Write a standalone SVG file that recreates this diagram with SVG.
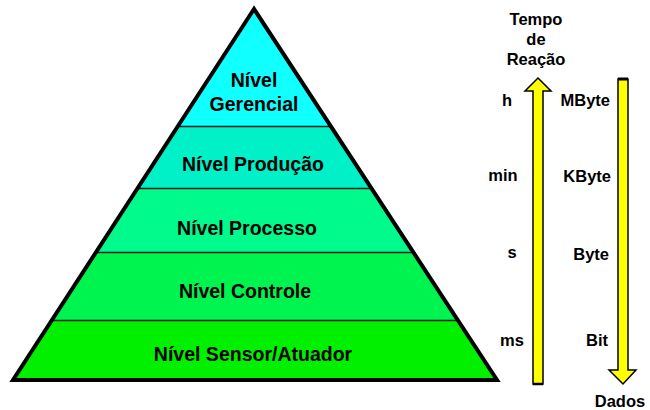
<svg xmlns="http://www.w3.org/2000/svg" width="650" height="410" viewBox="0 0 650 410">
<style>
.lbl{font-family:"Liberation Sans",Arial,sans-serif;font-weight:bold;font-size:19.5px;fill:#000;text-anchor:middle}
.sm{font-family:"Liberation Sans",Arial,sans-serif;font-weight:bold;font-size:16.5px;fill:#000}
.div{stroke:#1a1a1a;stroke-width:1.5}
.arr{fill:#FFFF00;stroke:#000;stroke-width:1.5;stroke-linejoin:miter}
</style>
<defs>
<clipPath id="tri"><polygon points="254,9 13,380 497,380"/></clipPath>
</defs>
<rect width="650" height="410" fill="#fff"/>
<g clip-path="url(#tri)">
<g id="gerencial"><rect x="0" y="0" width="510" height="127" fill="#10FFFF"/></g>
<g id="producao"><rect x="0" y="127" width="510" height="62" fill="#00F0C8"/></g>
<g id="processo"><rect x="0" y="189" width="510" height="64" fill="#00FA8C"/></g>
<g id="controle"><rect x="0" y="253" width="510" height="68" fill="#00F450"/></g>
<g id="sensor"><rect x="0" y="321" width="510" height="60" fill="#00F000"/></g>
<line class="div" x1="0" y1="126.5" x2="510" y2="126.5"/>
<line class="div" x1="0" y1="188.5" x2="510" y2="188.5"/>
<line class="div" x1="0" y1="252.5" x2="510" y2="252.5"/>
<line class="div" x1="0" y1="320.5" x2="510" y2="320.5"/>
</g>
<polygon points="254,9 13,380 497,380" fill="none" stroke="#000" stroke-width="4" stroke-linejoin="miter"/>
<text class="lbl" x="254" y="87">Nível</text>
<text class="lbl" x="254" y="111">Gerencial</text>
<text class="lbl" x="253" y="171">Nível Produção</text>
<text class="lbl" x="247" y="235">Nível Processo</text>
<text class="lbl" x="245" y="298">Nível Controle</text>
<text class="lbl" x="253" y="361">Nível Sensor/Atuador</text>
<g id="connectors">
<polygon id="tempo-arrow" class="arr" points="538,78 551,91 543,91 543,384 533,384 533,91 525,91"/>
<line x1="533" y1="384" x2="543" y2="384" stroke="#000" stroke-width="2.5"/>
<polygon id="dados-arrow" class="arr" points="618,79 628,79 628,370 636,370 623,384 609,370 618,370"/>
<line x1="618" y1="79" x2="628" y2="79" stroke="#000" stroke-width="3"/>
</g>
<g id="tempo">
<text class="sm" x="536" y="25" text-anchor="middle">Tempo</text>
<text class="sm" x="536" y="45" text-anchor="middle">de</text>
<text class="sm" x="536" y="65" text-anchor="middle">Reação</text>
</g>
<g id="time-labels">
<text class="sm" x="507" y="106" text-anchor="middle">h</text>
<text class="sm" x="503" y="181" text-anchor="middle">min</text>
<text class="sm" x="512" y="258" text-anchor="middle">s</text>
<text class="sm" x="512" y="346" text-anchor="middle">ms</text>
</g>
<g id="data-labels">
<text class="sm" x="610" y="106" text-anchor="end">MByte</text>
<text class="sm" x="611" y="182" text-anchor="end">KByte</text>
<text class="sm" x="609" y="260" text-anchor="end">Byte</text>
<text class="sm" x="608" y="346" text-anchor="end">Bit</text>
</g>
<g id="dados"><text class="sm" x="620" y="407" text-anchor="middle">Dados</text></g>
</svg>
